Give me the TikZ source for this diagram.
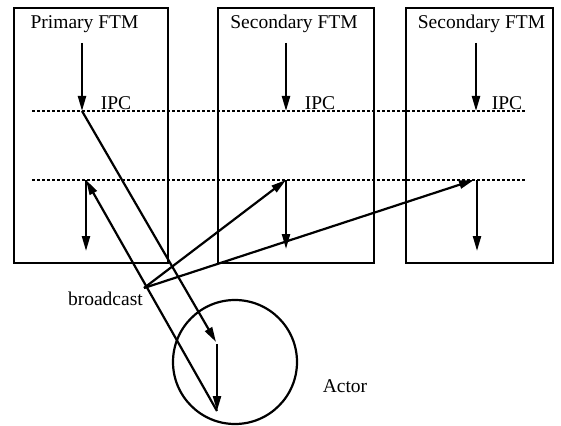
\documentclass[tikz,border=0pt]{standalone}
\usepackage{fontspec}
\setmainfont{Liberation Serif}
\usetikzlibrary{arrows.meta}
\begin{document}
\begin{tikzpicture}[x=1pt,y=-1pt,
  ftmbox/.style={draw, line width=2.2pt},
  lbl/.style={inner sep=0pt, font=\fontsize{19.5}{22}\selectfont},
  flow/.style={line width=2.2pt, -{Triangle[length=15pt,width=8pt]}},
  dotline/.style={line width=2pt, dash pattern=on 3pt off 2pt}]
\useasboundingbox (0,0) rectangle (561,425);
% boxes
\draw[ftmbox] (14,8) rectangle (168,263);
\draw[ftmbox] (218,8) rectangle (374,263);
\draw[ftmbox] (406,8) rectangle (553,263);
\node[lbl] (t1) at (84.5,24) {Primary FTM};
\node[lbl] (t2) at (294,24) {Secondary FTM};
\node[lbl] (t3) at (481.5,24) {Secondary FTM};
% dotted lines
\coordinate (d1a) at (32,111); \coordinate (d1b) at (526,111);
\coordinate (d2a) at (32,180); \coordinate (d2b) at (526,180);
\draw[dotline] (d1a) -- (d1b);
\draw[dotline] (d2a) -- (d2b);
\node[lbl] (ipc1) at (116,103) {IPC};
\node[lbl] (ipc2) at (320,103) {IPC};
\node[lbl] (ipc3) at (507,103) {IPC};
% actor
\node[draw, circle, line width=2.2pt, minimum size=124pt, inner sep=0pt] (actor) at (235,362) {};
\node[lbl] (actorlbl) at (345,386) {Actor};
% points
\coordinate (p1top) at (82,43);
\coordinate (p1ipc) at (82,111);
\coordinate (actin) at (216,342);
\coordinate (actvs) at (217,344);
\coordinate (actout) at (217,411);
\coordinate (p1ret) at (86,180);
\coordinate (p1end) at (86,251);
\coordinate (bc) at (144,288);
\coordinate (s1top) at (286,43);
\coordinate (s1ipc) at (286,111);
\coordinate (s1rec) at (286,180);
\coordinate (s1end) at (286,249);
\coordinate (s2top) at (476,43);
\coordinate (s2ipc) at (476,111);
\coordinate (s2rec) at (474,180);
\coordinate (s2end) at (477,251);
\coordinate (s2vs) at (477,180);
\node[lbl, anchor=east] (bclbl) at (143,299) {broadcast};
% primary flow
\draw[flow] (p1top) -- (p1ipc);
\draw[flow] (p1ipc) -- (actin);
\draw[flow] (actvs) -- (actout);
\draw[flow] (actout) -- (p1ret);
\draw[flow] (p1ret) -- (p1end);
% secondary 1
\draw[flow] (s1top) -- (s1ipc);
\draw[flow] (bc) -- (s1rec);
\draw[flow] (s1rec) -- (s1end);
% secondary 2
\draw[flow] (s2top) -- (s2ipc);
\draw[flow] (bc) -- (s2rec);
\draw[flow] (s2vs) -- (s2end);
\end{tikzpicture}
\end{document}
